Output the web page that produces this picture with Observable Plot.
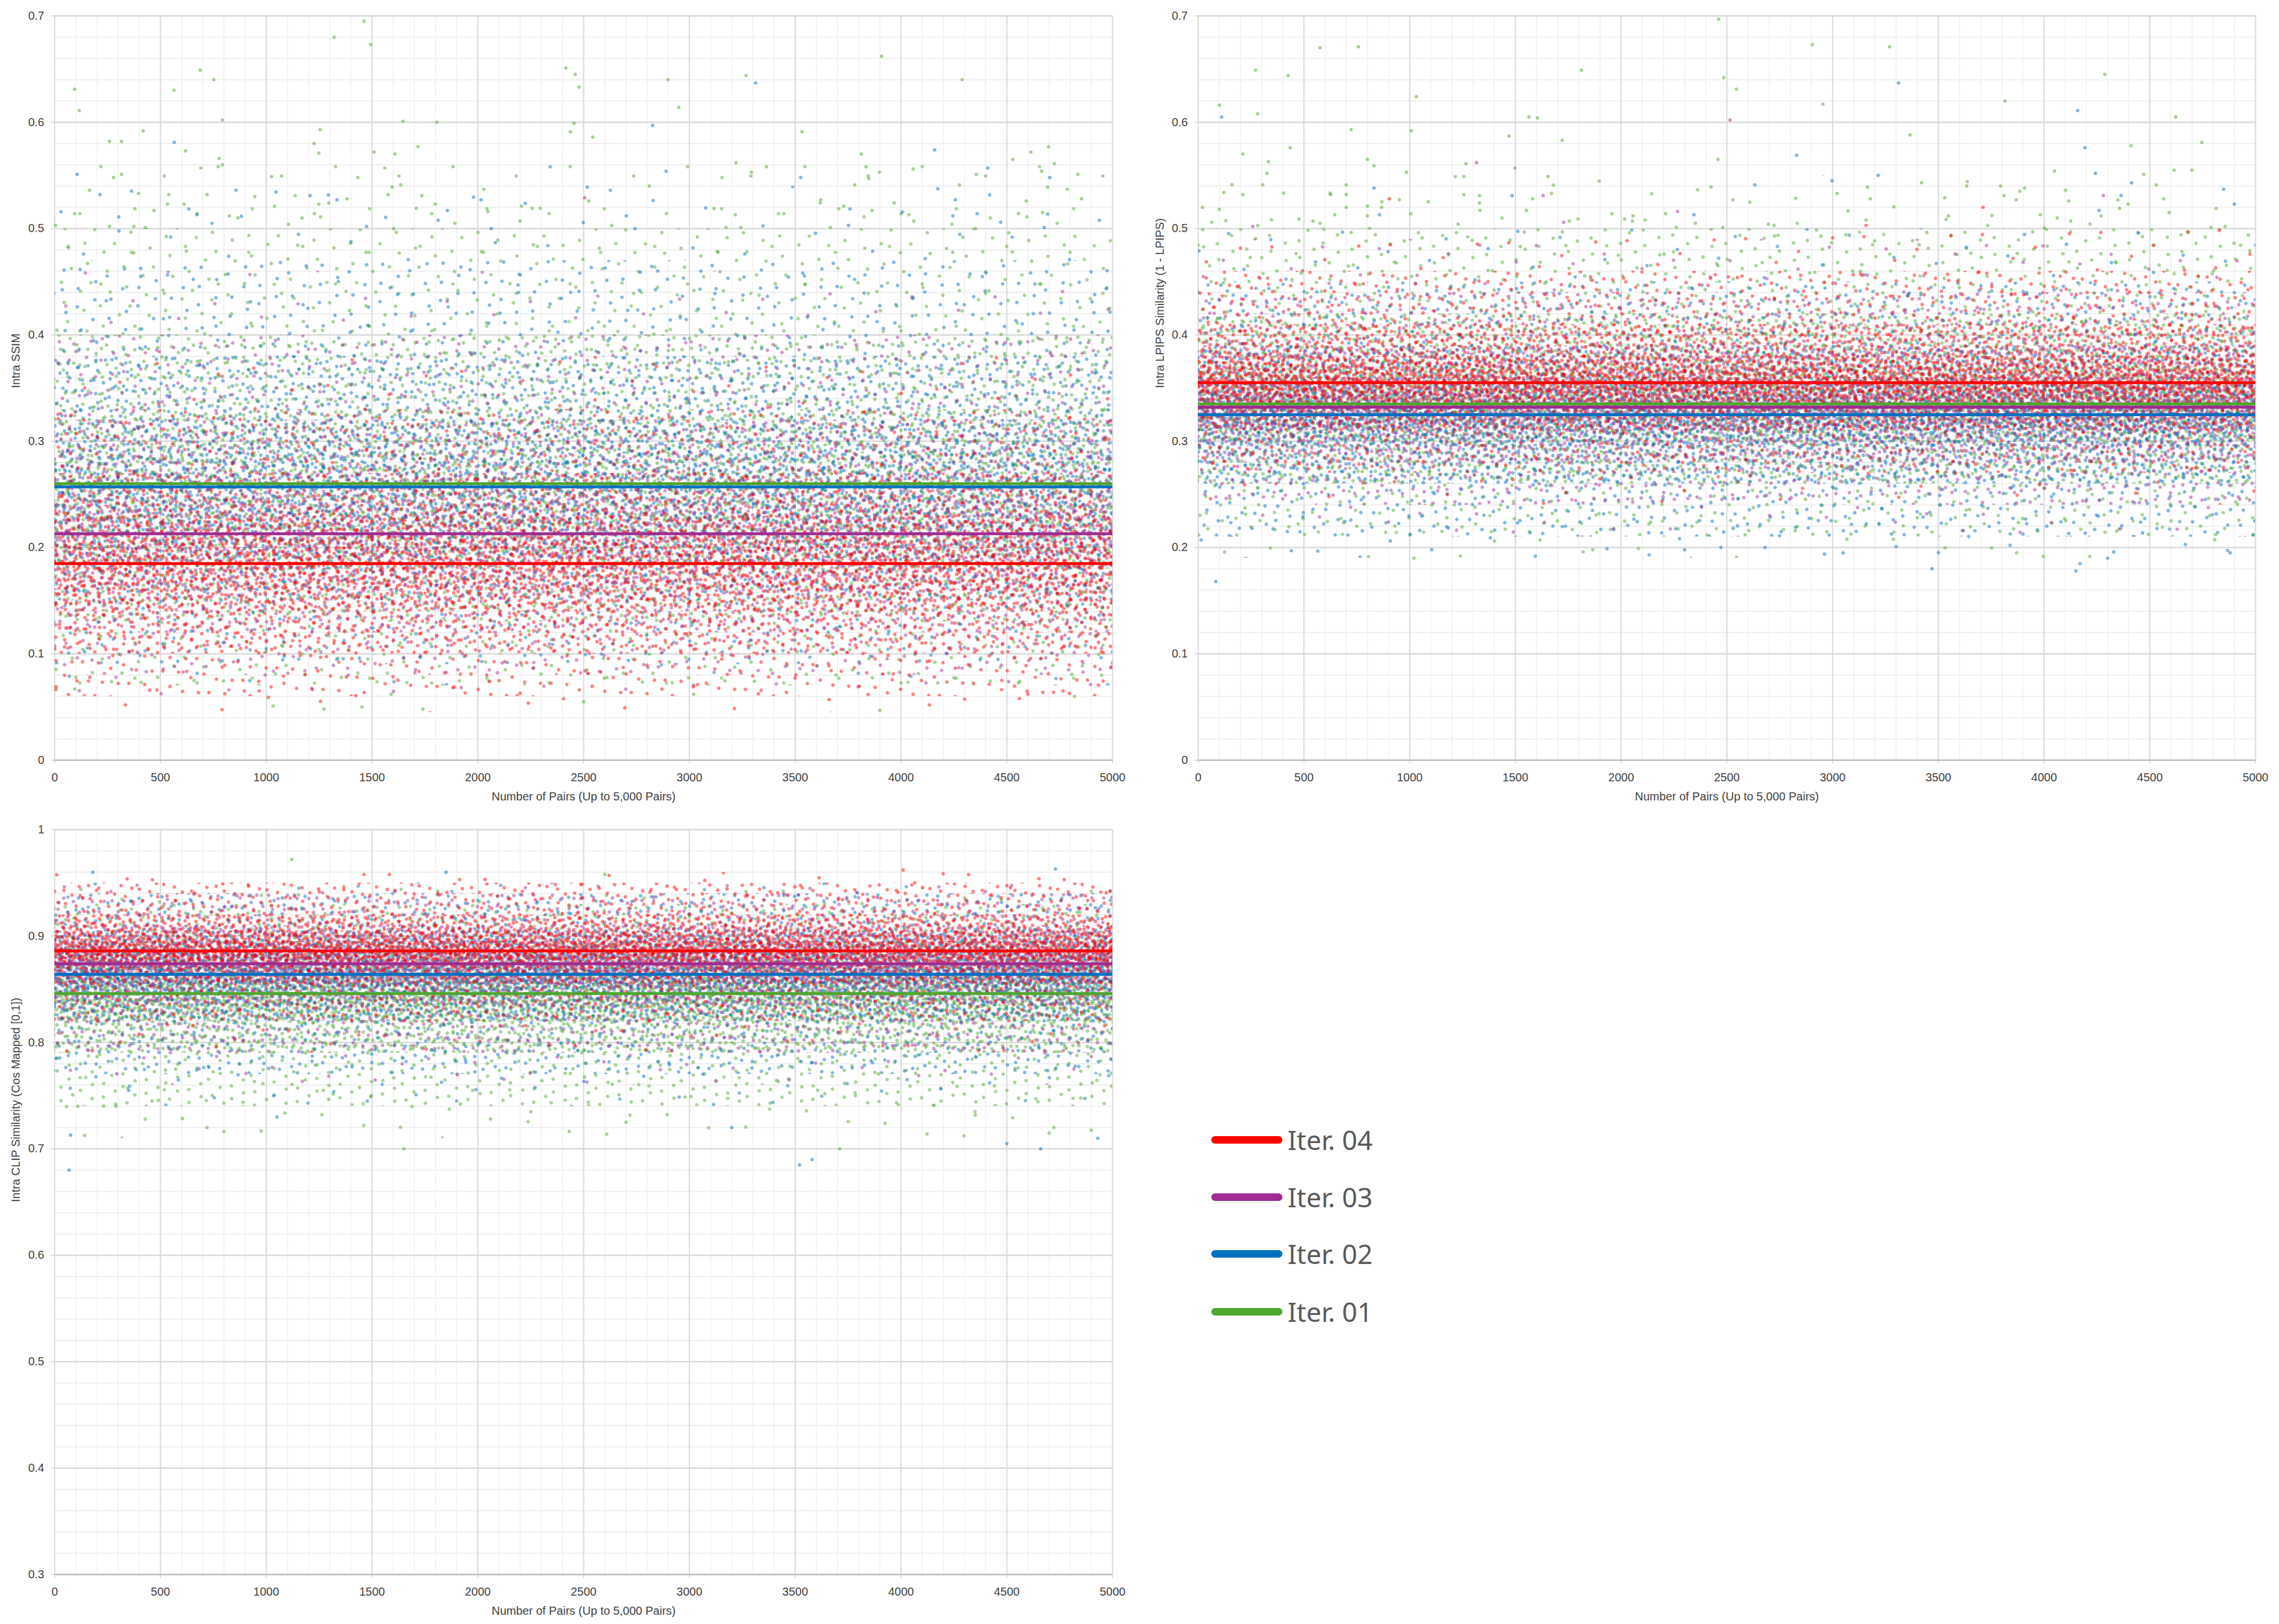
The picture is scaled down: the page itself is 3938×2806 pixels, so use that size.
<!DOCTYPE html>
<html><head><meta charset="utf-8">
<script src="https://cdn.jsdelivr.net/npm/d3@7"></script>
<script src="https://cdn.jsdelivr.net/npm/@observablehq/plot@0.6"></script>
<style>
html,body{margin:0;padding:0;background:#fff;}
body{width:3938px;height:2806px;position:relative;overflow:hidden;font-family:"Liberation Sans",Arial,sans-serif;}
.panel{position:absolute;}
#legend{position:absolute;left:2093px;top:0;font-family:"Noto Sans",sans-serif;color:#595959;}
.item{position:absolute;left:0;height:60px;display:flex;align-items:center;white-space:nowrap;}
.swatch{width:123px;height:13px;border-radius:7px;margin-right:9px;}
.lab{font-size:46px;line-height:1;}
</style></head>
<body>
<svg id="stipple" width="0" height="0" style="position:absolute;left:0;top:0"><defs></defs></svg>
<div id="pA" class="panel" style="left:0;top:0"></div>
<div id="pB" class="panel" style="left:1960px;top:0"></div>
<div id="pC" class="panel" style="left:0;top:1406px"></div>
<div id="legend"></div>
<script>
// ---------------- data ----------------
const series = ["Iter. 01", "Iter. 02", "Iter. 03", "Iter. 04"];
const seriesColors = ["#4EA72E", "#0070C0", "#A02B93", "#FF0000"];
const legendOrder = [3, 2, 1, 0];
const pairsPerSeries = 5000;

const xDomain = [0, 5000];
const xTicks = [0, 500, 1000, 1500, 2000, 2500, 3000, 3500, 4000, 4500, 5000];
const xTitle = "Number of Pairs (Up to 5,000 Pairs)";

const ssimTicks = [0, 0.1, 0.2, 0.3, 0.4, 0.5, 0.6, 0.7];
const lpipsTicks = [0, 0.1, 0.2, 0.3, 0.4, 0.5, 0.6, 0.7];
const clipTicks = [0.3, 0.4, 0.5, 0.6, 0.7, 0.8, 0.9, 1];

const ssimTitle = "Intra SSIM";
const lpipsTitle = "Intra LPIPS Similarity (1 - LPIPS)";
const clipTitle = "Intra CLIP Similarity (Cos Mapped [0,1])";

// mean lines (Iter. 01, 02, 03, 04)
const ssimMean = [0.260, 0.257, 0.213, 0.185];
const lpipsMean = [0.335, 0.325, 0.332, 0.355];
const clipMean = [0.846, 0.864, 0.874, 0.886];

// point-cloud extents per series: fringe, outer, wide, inner, core bands [lo, hi]
const ssimFringe = [[0.05, 0.56], [0.07, 0.54], [0.06, 0.46], [0.045, 0.38]];
const ssimOuter = [[0.07, 0.50], [0.09, 0.47], [0.08, 0.40], [0.06, 0.33]];
const ssimWide  = [[0.13, 0.40], [0.15, 0.38], [0.12, 0.32], [0.10, 0.27]];
const ssimInner = [[0.18, 0.33], [0.19, 0.32], [0.16, 0.27], [0.14, 0.23]];
const ssimCore  = [[0.21, 0.29], [0.22, 0.29], [0.18, 0.24], [0.16, 0.21]];

const lpipsFringe = [[0.19, 0.55], [0.19, 0.50], [0.21, 0.49], [0.24, 0.50]];
const lpipsOuter = [[0.21, 0.50], [0.21, 0.45], [0.24, 0.44], [0.27, 0.46]];
const lpipsWide  = [[0.26, 0.42], [0.26, 0.39], [0.28, 0.39], [0.31, 0.41]];
const lpipsInner = [[0.30, 0.37], [0.295, 0.355], [0.31, 0.36], [0.33, 0.38]];
const lpipsCore  = [[0.32, 0.35], [0.312, 0.338], [0.322, 0.344], [0.345, 0.368]];

const clipFringe = [[0.71, 0.945], [0.74, 0.95], [0.76, 0.95], [0.79, 0.96]];
const clipOuter = [[0.74, 0.93], [0.77, 0.94], [0.79, 0.94], [0.82, 0.95]];
const clipWide  = [[0.79, 0.895], [0.82, 0.905], [0.835, 0.91], [0.855, 0.92]];
const clipInner = [[0.82, 0.87], [0.845, 0.885], [0.855, 0.895], [0.87, 0.905]];
const clipCore  = [[0.834, 0.858], [0.854, 0.874], [0.865, 0.884], [0.878, 0.895]];

// share of each series' points in the fringe, outer, wide, inner and core bands
const bandShare = [0.05, 0.28, 0.37, 0.22, 0.08];

// individual points read outside the dense clouds: [pair, value, series]
const ssimPoints = [[1462,.695,0],[1321,.680,0],[1493,.673,0],[3908,.662,0],[688,.649,0],[752,.640,0],[2416,.651,0],[2460,.645,0],[2479,.633,0],[2899,.640,0],[3268,.644,0],[3313,.637,1],[4289,.640,0],[94,.631,0],[564,.630,0],[116,.611,0],[2950,.614,0],[793,.602,0],[1646,.601,0],[1806,.600,0],[2454,.599,0],[2826,.597,1],[418,.592,0],[1255,.593,0],[2438,.591,0],[2543,.586,0],[3532,.591,0],[259,.582,0],[316,.582,0],[565,.581,1],[1226,.580,0],[1716,.577,0],[618,.573,0],[1248,.571,0],[1509,.572,0],[1608,.570,0],[3812,.570,0],[4159,.574,1],[4614,.572,0],[4697,.577,0],[777,.566,0],[793,.560,0],[691,.557,0],[2342,.558,1],[1560,.557,0],[3220,.562,0],[3364,.558,0],[3293,.553,0],[3835,.558,0],[3898,.553,0],[4410,.557,1],[4528,.565,0],[4725,.561,0],[4665,.554,0],[106,.551,1],[278,.548,0],[316,.551,0],[1025,.549,0],[1433,.548,0],[2890,.554,1],[3154,.548,0],[3526,.548,1],[3848,.547,0],[4058,.556,0],[4356,.551,0],[4703,.548,1],[4836,.551,0],[1595,.539,0],[1636,.541,0],[2810,.540,0],[2517,.539,1],[3781,.541,0],[4276,.541,0],[4693,.539,0],[4786,.537,0],[164,.536,0],[214,.532,1],[396,.533,0],[539,.532,0],[720,.532,0],[857,.536,1],[1207,.531,1],[1137,.531,0],[946,.530,0],[1576,.532,0],[1735,.531,0],[2028,.537,0],[2626,.536,1],[2015,.527,1],[2505,.529,2],[2524,.526,0],[3621,.527,0],[4257,.527,1],[4592,.526,0],[4853,.528,0],[1334,.527,1],[1382,.528,0],[533,.523,0],[612,.523,0],[1248,.523,0],[1296,.524,0],[1799,.523,0],[3968,.524,0],[3618,.524,0],[1039,.521,0],[1709,.519,0],[3116,.519,0],[3729,.521,0],[2206,.521,0],[2257,.519,0],[2295,.519,0],[94,.514,0],[469,.517,0],[1856,.517,1],[2047,.516,0],[3421,.514,0],[3217,.513,0],[3863,.517,0],[4037,.513,0],[4245,.512,1],[4360,.514,1],[4669,.515,0],[672,.513,1],[303,.511,1],[2702,.512,1],[3825,.511,0],[4423,.510,0],[4595,.511,0],[4738,.505,0],[1169,.510,0],[1257,.511,0],[826,.512,0],[866,.510,0],[2199,.507,0],[1891,.505,0],[3752,.503,1],[4471,.506,1],[4060,.507,0],[4241,.504,0],[743,.505,1],[1474,.502,1],[2063,.500,1],[3173,.501,0],[3243,.501,0],[3666,.501,0],[4352,.500,0],[4677,.501,1],[4,.503,0],[1602,.500,0],[2633,.503,0],[1105,.504,0],[259,.502,0],[374,.502,0],[428,.501,0],
[1032,.051,0],[1273,.048,0],[1452,.050,0],[1010,.059,3],[1590,.062,0],[95,.067,0],[7,.069,3],[896,.065,3],[1740,.048,0],[2500,.055,0],[3900,.047,0],[4560,.058,3],[4600,.062,3],[4820,.060,0],[3020,.062,0],[3660,.057,3],[2200,.063,3]];

const lpipsPoints = [[2461,.697,0],[576,.670,0],[757,.671,0],[2904,.673,0],[3269,.671,0],[271,.649,0],[425,.644,0],[1812,.649,0],[2485,.642,0],[3312,.637,1],[2545,.631,0],[4287,.645,0],[1031,.624,0],[2954,.617,0],[3815,.620,0],[100,.616,0],[111,.605,1],[281,.608,0],[1564,.605,0],[1604,.604,0],[2515,.602,2],[4159,.611,1],[4622,.605,0],[723,.593,0],[1008,.592,0],[1470,.587,0],[1721,.583,0],[3366,.588,0],[4746,.581,0],[435,.576,0],[211,.570,0],[4193,.576,1],[4411,.578,0],[2830,.569,1],[332,.563,0],[800,.565,0],[1316,.562,2],[1266,.561,0],[2458,.565,0],[831,.559,0],[1497,.557,0],[325,.552,0],[985,.553,0],[1256,.549,0],[1654,.549,0],[3215,.550,1],[2997,.545,1],[4049,.554,0],[4243,.552,1],[4615,.555,0],[4699,.555,0],[4471,.551,0],[4414,.543,1],[305,.541,0],[700,.541,0],[831,.538,1],[2425,.539,0],[2632,.541,1],[3165,.539,0],[3634,.540,0],[3794,.540,0],[3908,.538,0],[4531,.541,0],[4849,.537,1],[121,.534,0],[211,.532,0],[626,.532,0],[700,.532,0],[1256,.532,0],[1330,.531,0],[1484,.531,1],[1631,.531,2],[1671,.533,0],[3021,.533,0],[4280,.531,2],[4364,.531,1],[3530,.529,0],[3811,.531,0],[904,.528,3],[951,.527,0],[1330,.524,0],[1581,.528,0],[2528,.527,0],[3178,.528,0],[3868,.527,0],[4116,.526,0],[4900,.523,1],[3711,.520,3],[20,.520,0],[100,.518,0],[700,.520,0],[800,.521,0],[867,.520,0],[857,.513,1],[646,.513,0],[800,.512,0],[1005,.514,0],[4260,.517,1],[4357,.519,0],[4397,.523,0],[2267,.516,2],[2344,.513,1],[1956,.514,0],[2210,.514,0],[2056,.512,0],[3982,.513,0],[4591,.515,0],[4270,.512,0],[3547,.512,0],[1437,.510,0],[476,.509,0],[576,.505,0],[543,.507,0],[1728,.506,2],[1755,.507,0],[2113,.508,0],[2053,.507,0],[2351,.505,0],[2696,.504,0],[2723,.503,0],[2833,.505,0],[3158,.508,0],[3158,.503,3],[4062,.510,0],[4126,.507,0],[64,.506,0],[281,.503,0],[258,.502,2],[1229,.504,0],[3734,.503,0],[4789,.501,0],[4856,.502,0],
[83,.168,1],[440,.197,1],[1020,.190,0],[1240,.192,0],[1820,.196,0],[2300,.198,1],[2680,.200,1],[3050,.195,1],[3470,.180,1],[3870,.195,0],[4150,.178,1],[4170,.185,1],[4300,.190,1],[4880,.195,1]];

const clipPoints = [[75,.713,1],[68,.680,1],[109,.740,0],[290,.740,0],[350,.755,1],[460,.745,0],[720,.720,0],[1050,.730,1],[1270,.755,0],[1650,.700,0],[1900,.745,1],[2250,.735,0],[2700,.725,0],[3200,.720,1],[3520,.685,1],[3580,.690,1],[3710,.700,0],[4350,.735,0],[4500,.705,1],[4660,.700,1],[4700,.715,0],[4930,.710,1],
[1120,.972,0],[180,.960,1],[4010,.962,3],[4730,.963,1],[2600,.958,0],[1850,.960,1]];

// ---------------- style ----------------
const dotR = 3.0, dotOpacity = 0.5;
const stippleTexture = [[0.12,0.15],[0.58,0.10],[0.86,0.42],[0.40,0.50],[0.15,0.78],[0.68,0.82]];
const gridMajor = "#d9d9d9", gridMinor = "#efefef", axisGray = "#bfbfbf", textGray = "#404040";
const fontFamily = "Liberation Sans, Arial, sans-serif";

const svgNS = "http://www.w3.org/2000/svg";
const defs = document.querySelector("#stipple defs");

function addPattern(id, tile, color, angle, off) {
  const p = document.createElementNS(svgNS, "pattern");
  p.setAttribute("id", id);
  p.setAttribute("patternUnits", "userSpaceOnUse");
  p.setAttribute("width", tile);
  p.setAttribute("height", tile);
  p.setAttribute("patternTransform", `rotate(${angle}) translate(${off[0] * tile} ${off[1] * tile})`);
  for (const [u, v] of stippleTexture) {
    const c = document.createElementNS(svgNS, "circle");
    c.setAttribute("cx", u * tile);
    c.setAttribute("cy", v * tile);
    c.setAttribute("r", dotR);
    c.setAttribute("fill", color);
    c.setAttribute("fill-opacity", dotOpacity);
    p.appendChild(c);
  }
  defs.appendChild(p);
}

function minorTicks(lo, hi, step) {
  const n = Math.round((hi - lo) / step);
  return d3.range(n + 1).map(i => +(lo + i * step).toFixed(3));
}

function drawPanel(cfg) {
  const [y0, y1] = cfg.yDomain;
  const layers = [cfg.fringe, cfg.outer, cfg.wide, cfg.inner, cfg.core];
  const marks = [
    Plot.gridX(minorTicks(xDomain[0], xDomain[1], 100), {stroke: gridMinor, strokeOpacity: 1, strokeWidth: 1.5}),
    Plot.gridY(minorTicks(y0, y1, 0.02), {stroke: gridMinor, strokeOpacity: 1, strokeWidth: 2}),
    Plot.gridX(xTicks, {stroke: gridMajor, strokeOpacity: 1, strokeWidth: 2}),
    Plot.gridY(cfg.yTicks, {stroke: gridMajor, strokeOpacity: 1, strokeWidth: 2.5})
  ];
  series.forEach((name, s) => {
    layers.forEach((layer, l) => {
      marks.push(Plot.rect([{x1: xDomain[0], x2: xDomain[1], lo: layer[s][0], hi: layer[s][1]}], {
        x1: "x1", x2: "x2", y1: "lo", y2: "hi", fill: `url(#${cfg.key}-${s}-${l})`
      }));
    });
    marks.push(Plot.dot(cfg.points.filter(d => d[2] === s), {
      x: d => d[0], y: d => d[1], r: dotR, fill: seriesColors[s], fillOpacity: dotOpacity
    }));
  });
  series.forEach((name, s) => {
    marks.push(Plot.ruleY([cfg.means[s]], {stroke: seriesColors[s], strokeWidth: 5}));
  });
  marks.push(
    Plot.ruleY([y0], {stroke: axisGray, strokeWidth: 2.5}),
    Plot.axisX(xTicks, {anchor: "bottom", tickSize: 6, tickFormat: () => "", color: axisGray, label: null}),
    Plot.axisX(xTicks, {anchor: "bottom", tickSize: 0, tickPadding: 22, tickFormat: d => String(d), color: textGray, fontSize: 20, label: null}),
    Plot.axisY(cfg.yTicks, {anchor: "left", tickSize: 6, tickFormat: () => "", color: axisGray, label: null}),
    Plot.axisY(cfg.yTicks, {anchor: "left", tickSize: 0, tickPadding: 18, tickFormat: d => String(d), color: textGray, fontSize: 20, label: null}),
    Plot.text([cfg.title], {frameAnchor: "left", rotate: -90, dx: cfg.titleDx, fontSize: 20, fill: textGray}),
    Plot.text([xTitle], {frameAnchor: "bottom", dy: 69, fontSize: 20, fill: textGray})
  );
  const plot = Plot.plot({
    width: cfg.width, height: cfg.height,
    marginLeft: cfg.ml, marginRight: cfg.mr, marginTop: cfg.mt, marginBottom: cfg.mb,
    x: {domain: xDomain, label: null},
    y: {domain: cfg.yDomain, label: null},
    style: {background: "#fff", fontFamily, overflow: "visible"},
    marks
  });
  document.getElementById(cfg.el).appendChild(plot);

  // stipple textures sized so each band carries its share of the series' points
  const xs = plot.scale("x"), ys = plot.scale("y");
  const wpx = Math.abs(xs.range[1] - xs.range[0]);
  const pxPerUnit = Math.abs(ys.range[1] - ys.range[0]) / Math.abs(ys.domain[1] - ys.domain[0]);
  series.forEach((name, s) => {
    layers.forEach((layer, l) => {
      const hpx = Math.abs(layer[s][1] - layer[s][0]) * pxPerUnit;
      const n = pairsPerSeries * bandShare[l];
      const tile = Math.max(30, Math.sqrt(stippleTexture.length * wpx * hpx / n));
      const angle = 13 * s + 31 * l + cfg.spin;
      const off = [((s * 0.37 + l * 0.23) % 1), ((s * 0.61 + l * 0.47) % 1)];
      addPattern(`${cfg.key}-${s}-${l}`, tile, seriesColors[s], angle, off);
    });
  });
}

drawPanel({el: "pA", key: "ssim", width: 1960, height: 1410, ml: 94, mr: 38, mt: 27, mb: 97,
  yDomain: [0, 0.7], yTicks: ssimTicks, title: ssimTitle, titleDx: -67, spin: 0,
  means: ssimMean, fringe: ssimFringe, outer: ssimOuter, wide: ssimWide, inner: ssimInner, core: ssimCore, points: ssimPoints});
drawPanel({el: "pB", key: "lpips", width: 1978, height: 1410, ml: 110, mr: 41, mt: 27, mb: 97,
  yDomain: [0, 0.7], yTicks: lpipsTicks, title: lpipsTitle, titleDx: -66, spin: 5,
  means: lpipsMean, fringe: lpipsFringe, outer: lpipsOuter, wide: lpipsWide, inner: lpipsInner, core: lpipsCore, points: lpipsPoints});
drawPanel({el: "pC", key: "clip", width: 1960, height: 1400, ml: 94, mr: 38, mt: 27, mb: 86,
  yDomain: [0.3, 1], yTicks: clipTicks, title: clipTitle, titleDx: -67, spin: 9,
  means: clipMean, fringe: clipFringe, outer: clipOuter, wide: clipWide, inner: clipInner, core: clipCore, points: clipPoints});

// legend
const legendRowY = [1969, 2068, 2166, 2266];
const legend = document.getElementById("legend");
legendOrder.forEach((s, i) => {
  const item = document.createElement("div");
  item.className = "item";
  item.style.top = (legendRowY[i] - 30) + "px";
  item.innerHTML = `<span class="swatch" style="background:${seriesColors[s]}"></span><span class="lab">${series[s]}</span>`;
  legend.appendChild(item);
});
</script>
</body></html>
